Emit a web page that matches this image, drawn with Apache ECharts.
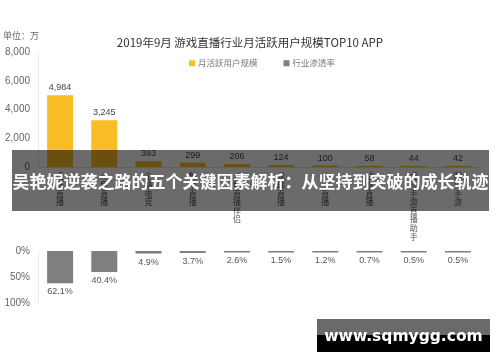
<!DOCTYPE html>
<html><head><meta charset="utf-8">
<script src="https://cdn.jsdelivr.net/npm/echarts@6/dist/echarts.min.js"></script>
<style>html,body{margin:0;padding:0;background:#fff}#c{width:500px;height:362px}</style>
</head><body><div id="c"></div>
<script>
const categories = ['虎牙直播','斗鱼直播','企鹅电竞','触手直播','斗鱼直播伴侣','龙珠直播','YY直播','战旗直播','虎牙手游直播助手','腾讯手游'];
const mauValues = [4984, 3245, 393, 299, 206, 124, 100, 58, 44, 42];
const penetrationValues = [62.1, 40.4, 4.9, 3.7, 2.6, 1.5, 1.2, 0.7, 0.5, 0.5];
const topTicks = [0, 2000, 4000, 6000, 8000];
const bottomTicks = [0, 50, 100];

const chart = echarts.init(document.getElementById('c'), null, {renderer:'canvas'});
const numFont = 'Liberation Sans, Arial, sans-serif';
const cjk = 'Noto Sans CJK SC, sans-serif';
chart.setOption({
  animation:false,
  backgroundColor:'#fff',
  title:{text:'2019年9月 游戏直播行业月活跃用户规模TOP10 APP',left:'center',top:32,
    textStyle:{fontSize:11.5,fontWeight:'normal',color:'#333',fontFamily:cjk}},
  legend:{data:['月活跃用户规模','行业渗透率'],left:184,top:54,itemWidth:6,itemHeight:6,itemGap:26,icon:'rect',
    textStyle:{fontSize:8.5,color:'#777',fontFamily:cjk,padding:[0,0,0,-2]}},
  grid:[
    {left:38,right:20,top:52,height:115},
    {left:38,right:20,top:251,height:52}
  ],
  xAxis:[
    {type:'category',gridIndex:0,data:categories,axisTick:{show:false},
     axisLine:{lineStyle:{color:'#e3e3e3'}},
     axisLabel:{interval:0,margin:5,fontSize:8,lineHeight:8.6,color:'#555',fontFamily:cjk,
       formatter:v=>v.split('').join('\n')}},
    {type:'category',gridIndex:1,data:categories,show:false}
  ],
  yAxis:[
    {type:'value',gridIndex:0,min:topTicks[0],max:topTicks[topTicks.length-1],interval:2000,
     axisLine:{show:true,lineStyle:{color:'#ececec'}},axisTick:{show:false},splitLine:{show:false},
     axisLabel:{fontSize:10,color:'#666',fontFamily:numFont,margin:8,
       formatter:v=>v.toLocaleString('en-US')}},
    {type:'value',gridIndex:1,min:bottomTicks[0],max:bottomTicks[bottomTicks.length-1],interval:50,inverse:true,
     axisLine:{show:true,lineStyle:{color:'#ececec'}},axisTick:{show:false},splitLine:{show:false},
     axisLabel:{fontSize:10,color:'#666',fontFamily:numFont,margin:8,formatter:'{value}%'}}
  ],
  series:[
    {name:'月活跃用户规模',type:'bar',xAxisIndex:0,yAxisIndex:0,data:mauValues,barWidth:26,barMinHeight:1,
     itemStyle:{color:'#f9bd26'},
     label:{show:true,position:'top',distance:3,fontSize:9,color:'#444',fontFamily:numFont,
       formatter:p=>p.value.toLocaleString('en-US')}},
    {name:'行业渗透率',type:'bar',xAxisIndex:1,yAxisIndex:1,data:penetrationValues,barWidth:26,barMinHeight:1.5,
     itemStyle:{color:'#7f7f7f'},
     label:{show:true,position:'bottom',distance:4,fontSize:9,color:'#555',fontFamily:numFont,
       formatter:p=>p.value.toFixed(1)+'%'}}
  ],
  graphic:[
    {type:'text',left:3,top:31,style:{text:'单位：万',fontSize:9,fill:'#666',fontFamily:cjk}},
    {type:'rect',z:100,shape:{x:12,y:150,width:477,height:61},style:{fill:'rgba(0,0,0,0.58)'}},
    {type:'text',z:101,x:250.5,y:182,style:{text:'吴艳妮逆袭之路的五个关键因素解析：从坚持到突破的成长轨迹',
      font:'bold 17px "Noto Sans CJK SC", sans-serif',fill:'#fff',align:'center',verticalAlign:'middle'}},
    {type:'rect',z:100,shape:{x:317,y:319,width:173,height:16},style:{fill:'#6a6a6a'}},
    {type:'rect',z:100,shape:{x:317,y:335,width:173,height:17},style:{fill:'#000'}},
    {type:'text',z:101,x:403.5,y:337,style:{text:'www.sqmygg.com',
      font:'bold 15.5px "DejaVu Sans", sans-serif',fill:'#fff',align:'center',verticalAlign:'middle'}}
  ]
});
</script></body></html>
